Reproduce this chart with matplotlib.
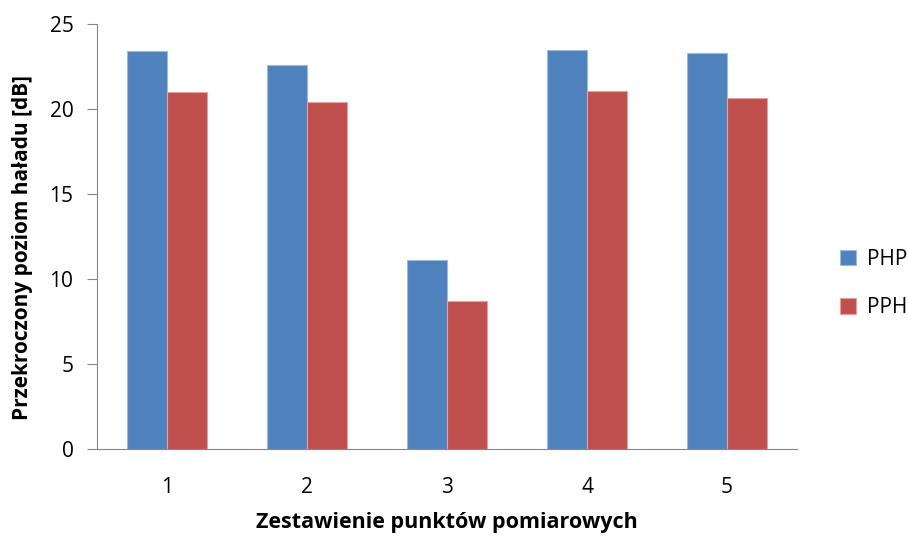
import matplotlib
matplotlib.use('Agg')
import matplotlib.pyplot as plt
import numpy as np

categories = ["1", "2", "3", "4", "5"]
php = [23.43, 22.59, 11.12, 23.49, 23.27]
pph = [21.00, 20.41, 8.70, 21.08, 20.62]

plt.rcParams['font.family'] = ['Open Sans', 'DejaVu Sans']

fig = plt.figure(figsize=(9.08, 5.36), dpi=100)
ax = fig.add_axes([97 / 908, 1 - 449 / 536, 700 / 908, 425 / 536])

x = np.arange(len(categories))
w = 40 / 140
ax.bar(x - w / 2, php, w, color='#4F81BD', edgecolor='#9DB9DE', linewidth=0.8, label='PHP')
ax.bar(x + w / 2, pph, w, color='#C0504D', edgecolor='#E0A3A1', linewidth=0.8, label='PPH')

ax.set_xlim(-0.5, 4.5)
ax.set_ylim(0, 25)
ax.set_yticks([0, 5, 10, 15, 20, 25])
ax.set_xticks(x)
ax.set_xticklabels(categories)

for s in ['top', 'right']:
    ax.spines[s].set_visible(False)
for s in ['left', 'bottom']:
    ax.spines[s].set_color('#868686')
ax.tick_params(axis='y', colors='#868686', length=7, labelcolor='black', labelsize=15, pad=10)
ax.tick_params(axis='x', length=0, labelsize=15, pad=20)

ax.set_ylabel("Przekroczony poziom haładu [dB]", fontsize=15, fontweight='bold')
ax.yaxis.set_label_coords(-0.092, 0.475)
ax.set_xlabel("Zestawienie punktów pomiarowych", fontsize=15.5, fontweight='bold')
ax.xaxis.set_label_coords(0.5, -0.148)

leg = ax.legend(loc='center left', bbox_to_anchor=(1.034, 0.39), frameon=False,
                fontsize=15, handlelength=0.8, handleheight=0.8, labelspacing=1.3,
                handletextpad=0.5)

fig.savefig('out.png', dpi=100)
